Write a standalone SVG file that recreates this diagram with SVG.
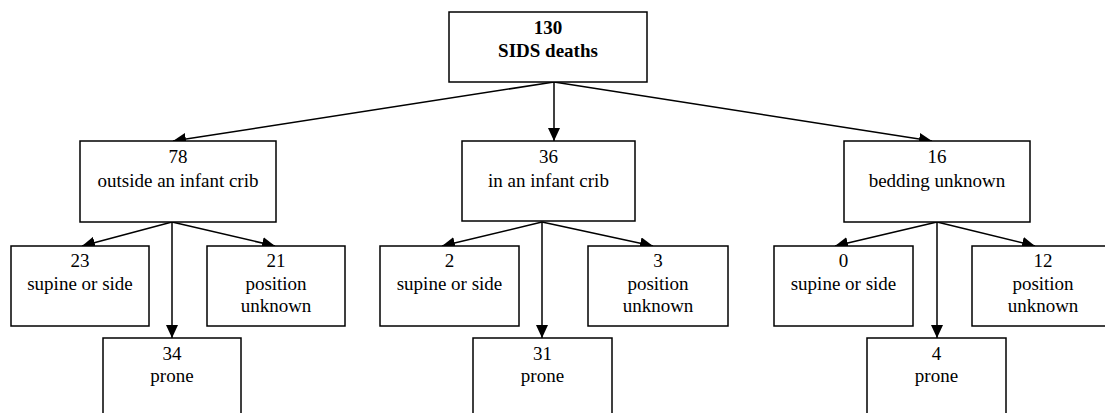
<svg xmlns="http://www.w3.org/2000/svg" width="1105" height="413" viewBox="0 0 1105 413">
<style>
.box{fill:#fff;stroke:#000;stroke-width:1.5}
.t{font-family:"Liberation Serif","Times New Roman",serif;font-size:19px;fill:#000;text-anchor:middle}
.b{font-weight:bold}
.c{stroke:#000;stroke-width:1.5;fill:none;marker-end:url(#ah)}
</style>
<defs>
<marker id="ah" markerUnits="userSpaceOnUse" markerWidth="14" markerHeight="12" refX="13" refY="6" orient="auto" viewBox="0 0 14 12">
<path d="M0,0 L13,6 L0,12 Z" fill="#000"/>
</marker>
</defs>
<rect width="1105" height="413" fill="#fff"/>
<g id="connectors">
<path class="c" d="M554,82 L173,141"/>
<path class="c" d="M554,82 L554,141"/>
<path class="c" d="M554,82 L932,141"/>
<path class="c" d="M172,222 L82,246"/>
<path class="c" d="M172,222 L275,246"/>
<path class="c" d="M172,222 L172,338"/>
<path class="c" d="M542,222 L442,246"/>
<path class="c" d="M542,222 L653,246"/>
<path class="c" d="M542,222 L542,338"/>
<path class="c" d="M937,222 L835,246"/>
<path class="c" d="M937,222 L1035,246"/>
<path class="c" d="M937,222 L937,338"/>
</g>
<g id="root">
<rect class="box" x="449" y="12" width="198" height="70"/>
<text class="t b" x="548" y="34">130</text>
<text class="t b" x="548" y="57">SIDS deaths</text>
</g>
<g id="outside">
<rect class="box" x="80" y="141" width="196" height="81"/>
<text class="t" x="178" y="163">78</text>
<text class="t" x="178" y="187">outside an infant crib</text>
</g>
<g id="incrib">
<rect class="box" x="462" y="141" width="173" height="80"/>
<text class="t" x="548.5" y="163">36</text>
<text class="t" x="548.5" y="187">in an infant crib</text>
</g>
<g id="bedding">
<rect class="box" x="844" y="141" width="186" height="81"/>
<text class="t" x="937" y="163">16</text>
<text class="t" x="937" y="187">bedding unknown</text>
</g>
<g id="out-supine">
<rect class="box" x="11" y="246" width="138" height="80"/>
<text class="t" x="80" y="267">23</text>
<text class="t" x="80" y="290">supine or side</text>
</g>
<g id="out-unknown">
<rect class="box" x="207" y="246" width="138" height="80"/>
<text class="t" x="276" y="267">21</text>
<text class="t" x="276" y="290">position</text>
<text class="t" x="276" y="312">unknown</text>
</g>
<g id="out-prone">
<rect class="box" x="103" y="338" width="138" height="85"/>
<text class="t" x="172" y="360">34</text>
<text class="t" x="172" y="382">prone</text>
</g>
<g id="in-supine">
<rect class="box" x="380" y="246" width="139" height="80"/>
<text class="t" x="449.5" y="267">2</text>
<text class="t" x="449.5" y="290">supine or side</text>
</g>
<g id="in-unknown">
<rect class="box" x="588" y="246" width="140" height="80"/>
<text class="t" x="658" y="267">3</text>
<text class="t" x="658" y="290">position</text>
<text class="t" x="658" y="312">unknown</text>
</g>
<g id="in-prone">
<rect class="box" x="473" y="338" width="139" height="85"/>
<text class="t" x="542.5" y="360">31</text>
<text class="t" x="542.5" y="382">prone</text>
</g>
<g id="bed-supine">
<rect class="box" x="774" y="246" width="139" height="80"/>
<text class="t" x="843.5" y="267">0</text>
<text class="t" x="843.5" y="290">supine or side</text>
</g>
<g id="bed-unknown">
<rect class="box" x="972" y="246" width="142" height="80"/>
<text class="t" x="1043" y="267">12</text>
<text class="t" x="1043" y="290">position</text>
<text class="t" x="1043" y="312">unknown</text>
</g>
<g id="bed-prone">
<rect class="box" x="867" y="338" width="139" height="85"/>
<text class="t" x="936.5" y="360">4</text>
<text class="t" x="936.5" y="382">prone</text>
</g>
</svg>
